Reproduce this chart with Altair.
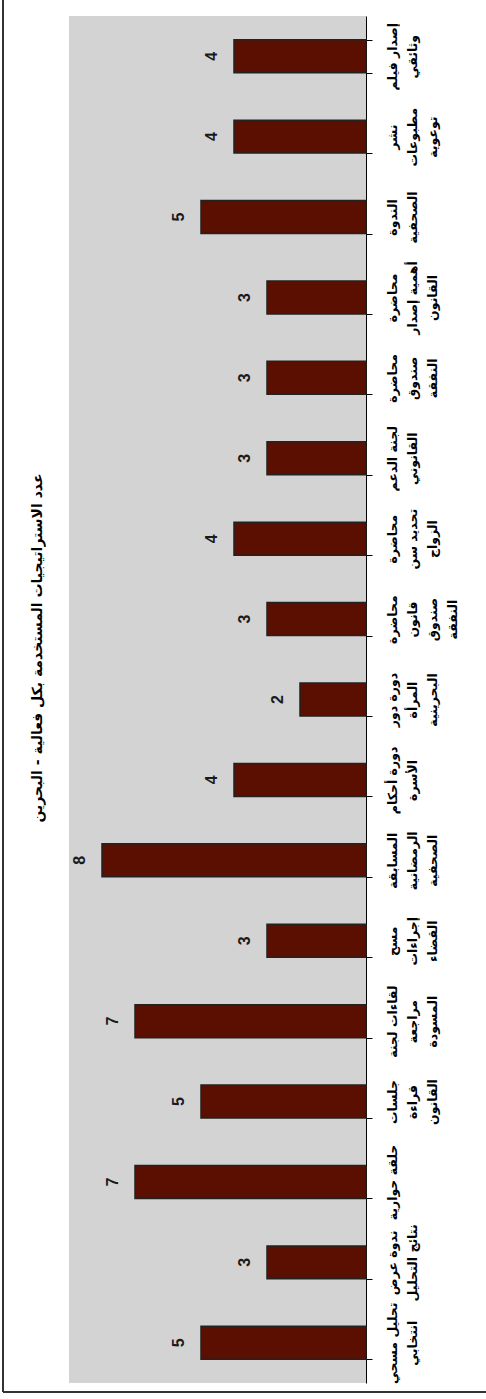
import altair as alt
import pandas as pd

categories = [
    "إصدار فيلم\nوثائقي",
    "نشر\nمطبوعات\nتوعوية",
    "الندوة\nالصحفية",
    "محاضرة\nأهمية إصدار\nالقانون",
    "محاضرة\nصندوق\nالنفقة",
    "لجنة الدعم\nالقانوني",
    "محاضرة\nتحديد سن\nالزواج",
    "محاضرة\nقانون\nصندوق\nالنفقة",
    "دورة دور\nالمرأة\nالبحرينية",
    "دورة أحكام\nالأسرة",
    "المسابقة\nالرمضانية\nالصحفية",
    "مسح\nإجراءات\nالقضاء",
    "لقاءات لجنة\nمراجعة\nالمسودة",
    "جلسات\nقراءة\nالقانون",
    "حلقة حوارية",
    "ندوة عرض\nنتائج التحليل",
    "تحليل مسحي\nانتخابي",
]
values = [4, 4, 5, 3, 3, 3, 4, 3, 2, 4, 8, 3, 7, 5, 7, 3, 5]
title_text = "عدد الاستراتيجيات المستخدمة بكل فعالية - البحرين"

df = pd.DataFrame({"cat": categories, "val": values})

W, H = 297, 1367
ARABIC_FONT = "DejaVu Sans"
NUM_FONT = "Liberation Sans"

x_scale = alt.Scale(domain=[0, 9], reverse=True, nice=False)

y_enc = alt.Y(
    "cat:N",
    sort=categories,
    scale=alt.Scale(paddingInner=0.59, paddingOuter=0.295),
    axis=alt.Axis(
        orient="right",
        title=None,
        labelAngle=270,
        labelAlign="center",
        labelBaseline="top",
        labelExpr="split(datum.label, '\\n')",
        labelFont=ARABIC_FONT,
        labelFontWeight="bold",
        labelFontSize=12.5,
        labelLineHeight=20,
        labelColor="black",
        labelPadding=14,
        labelLimit=0,
        tickBand="extent",
        tickSize=6,
        tickColor="black",
        domainColor="black",
        domainWidth=1,
        labelOverlap=False,
    ),
)

bars = alt.Chart(df).mark_bar(
    color="#5a0f00", stroke="#222222", strokeWidth=1.5
).encode(x=alt.X("val:Q", scale=x_scale, axis=None), y=y_enc)

labels = alt.Chart(df).mark_text(
    angle=270, align="center", baseline="alphabetic", xOffset=-17,
    font=NUM_FONT, fontWeight="bold", fontSize=16, color="#1a1a1a"
).encode(
    x=alt.X("val:Q", scale=x_scale, axis=None),
    y=alt.Y("cat:N", sort=categories),
    text="val:Q",
)

one = alt.Data(values=[{"t": title_text}])
title_mark = alt.Chart(one).mark_text(
    angle=270, align="center", baseline="middle",
    font=ARABIC_FONT, fontWeight="bold", fontSize=14, color="black"
).encode(x=alt.value(-31), y=alt.value(632), text="t:N")

left_border = alt.Chart(one).mark_rule(color="#333333", strokeWidth=2).encode(
    x=alt.value(-66), y=alt.value(-16), y2=alt.value(1376)
)
bottom_border = alt.Chart(one).mark_rule(color="#333333", strokeWidth=2).encode(
    x=alt.value(-66), x2=alt.value(420), y=alt.value(1376)
)

chart = alt.layer(bars, labels, title_mark, left_border, bottom_border).properties(
    width=W,
    height=H,
    autosize=alt.AutoSizeParams(type="none"),
    padding={"left": 69, "top": 16, "right": 120, "bottom": 16},
).configure(background="white").configure_view(fill="#d3d3d3", strokeWidth=0)

chart.save("out.html", embed_options={"renderer": "svg", "actions": False})
